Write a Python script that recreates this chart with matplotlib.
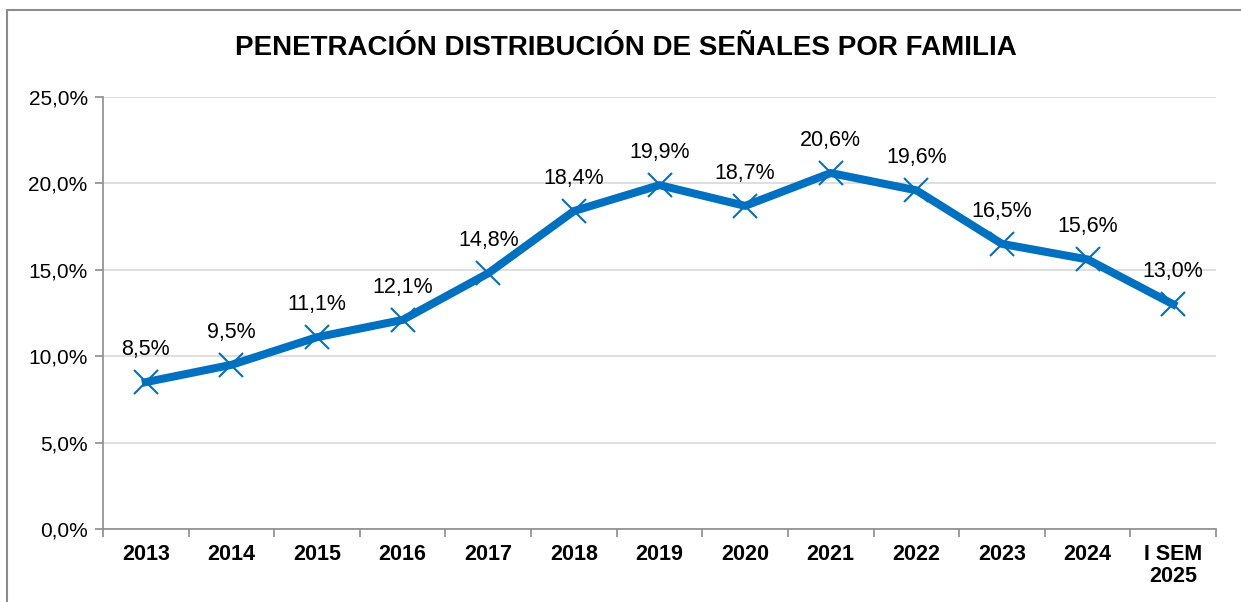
import numpy as np
import matplotlib.pyplot as plt
from matplotlib.patches import Rectangle

periodos = ["2013", "2014", "2015", "2016", "2017", "2018", "2019", "2020",
            "2021", "2022", "2023", "2024", "I SEM\n2025"]
penetracion = [8.5, 9.5, 11.1, 12.1, 14.8, 18.4, 19.9, 18.7, 20.6, 19.6, 16.5, 15.6, 13.0]

plt.rcParams['font.family'] = ['Liberation Sans', 'DejaVu Sans']

fig = plt.figure(figsize=(12.41, 6.02), dpi=100)
ax = fig.add_axes([103 / 1241, 1 - 529 / 602, (1216 - 103) / 1241, (529 - 97) / 602])

# marco del grafico
fig.patches.append(Rectangle((7 / 1241, -0.1), 1.2, 1 - 10 / 602 + 0.1,
                             transform=fig.transFigure, fill=False,
                             edgecolor='#8c8c8c', linewidth=1.5))

x = np.arange(len(periodos))
azul = '#0070C0'
ax.plot(x, penetracion, color=azul, linewidth=5.8, marker='x',
        markersize=17, markeredgewidth=1.5, markeredgecolor=azul, zorder=3)

for xi, v in zip(x, penetracion):
    ax.annotate('{:.1f}%'.format(v).replace('.', ','), (xi, v),
                xytext=(0, 16), textcoords='offset points',
                ha='center', va='bottom', fontsize=15.5)

ax.set_xlim(-0.5, len(periodos) - 0.5)
ax.set_ylim(0, 25)
ax.set_yticks(np.arange(0, 26, 5))
ax.set_yticklabels(['{:.1f}%'.format(t).replace('.', ',') for t in np.arange(0, 26, 5)],
                   fontsize=15)
ax.set_xticks(x)
ax.set_xticklabels(periodos, fontsize=15.5, fontweight='bold', linespacing=1.05)
ax.set_xticks(np.arange(-0.5, len(periodos), 1), minor=True)
ax.tick_params(axis='x', which='major', length=0, pad=11)
ax.tick_params(axis='x', which='minor', length=6, color='#8c8c8c', width=1.2)
ax.tick_params(axis='y', length=6, color='#8c8c8c', width=1.2, pad=5)

ax.grid(axis='y', color='#d9d9d9', linewidth=1.2)
ax.set_axisbelow(True)
for s in ['top', 'right']:
    ax.spines[s].set_visible(False)
for s in ['left', 'bottom']:
    ax.spines[s].set_color('#8c8c8c')
    ax.spines[s].set_linewidth(1.2)

fig.text(626 / 1241, 1 - 48 / 602, 'PENETRACIÓN DISTRIBUCIÓN DE SEÑALES POR FAMILIA',
         ha='center', va='center', fontsize=20, fontweight='bold')

fig.savefig('out.png', dpi=100)
